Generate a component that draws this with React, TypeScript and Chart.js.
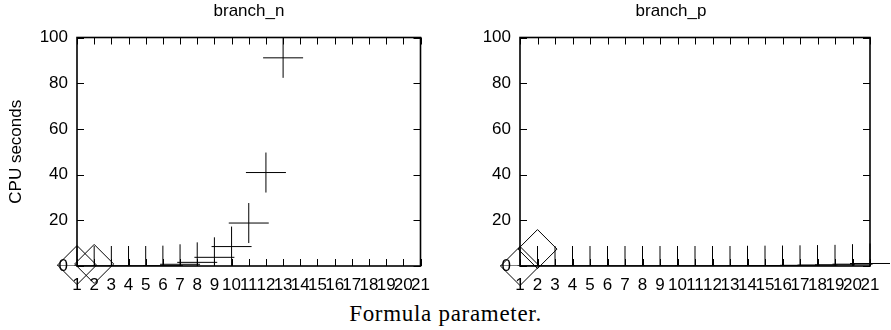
import React, { useEffect, useRef } from "react";
import { Chart, registerables } from "chart.js";

Chart.register(...registerables);

// ---- data ----
const xTickMin = 1;
const xTickMax = 21;
const yTickMax = 100;
const yTickStep = 20;

const branchNCrossX = [1, 2, 3, 4, 5, 6, 7, 8, 9, 10, 11, 12, 13];
const branchNCrossY = [0, 0, 0, 0, 0, 0.15, 0.75, 1.6, 3.8, 8.5, 18.8, 40.9, 91.1];
const branchNDiamondX = [1, 2];
const branchNDiamondY = [0.4, 0.9];

const branchPCrossX = [1, 2, 3, 4, 5, 6, 7, 8, 9, 10, 11, 12, 13, 14, 15, 16, 17, 18, 19, 20, 21];
const branchPCrossY = [0, 0, 0, 0, 0, 0, 0, 0, 0, 0, 0, 0, 0, 0.1, 0.15, 0.2, 0.3, 0.4, 0.5, 0.8, 1.1];
const branchPDiamondX = [1, 2];
const branchPDiamondY = [0, 7.4];

const FONT = "'Liberation Sans', Arial, sans-serif";
const FSIZE = 17;

const framePlugin = {
  id: "gnuframe",
  afterDraw(chart: any) {
    const { ctx, chartArea: a, scales } = chart;
    const xs = scales.x;
    const ys = scales.y;
    const tl = 7;
    ctx.save();
    ctx.strokeStyle = "#000";
    ctx.lineWidth = 1;
    ctx.beginPath();
    xs.ticks.forEach((t: any) => {
      const px = Math.round(xs.getPixelForValue(t.value)) + 0.5;
      ctx.moveTo(px, a.bottom);
      ctx.lineTo(px, a.bottom - tl);
      ctx.moveTo(px, a.top);
      ctx.lineTo(px, a.top + tl);
    });
    ys.ticks.forEach((t: any) => {
      const py = Math.round(ys.getPixelForValue(t.value)) + 0.5;
      ctx.moveTo(a.left, py);
      ctx.lineTo(a.left + tl, py);
      ctx.moveTo(a.right, py);
      ctx.lineTo(a.right - tl, py);
    });
    ctx.stroke();
    ctx.lineWidth = 1.6;
    ctx.strokeRect(a.left, a.top, a.right - a.left, a.bottom - a.top);
    ctx.restore();
  },
};

function pts(xs: number[], ys: number[]) {
  return xs.map((x, i) => ({ x, y: ys[i] }));
}

function makeConfig(
  crossX: number[],
  crossY: number[],
  diaX: number[],
  diaY: number[],
  yWidth: number,
  rightPad: number,
  yTitle: string | null
): any {
  return {
    type: "scatter",
    data: {
      datasets: [
        {
          data: pts(crossX, crossY),
          pointStyle: "cross",
          pointRadius: 20,
          pointHoverRadius: 20,
          borderColor: "#000",
          backgroundColor: "#000",
          borderWidth: 1,
          showLine: false,
          clip: { left: false, top: false, right: false, bottom: 0 },
        },
        {
          data: pts(diaX, diaY),
          pointStyle: "rectRot",
          pointRadius: 19.5,
          pointHoverRadius: 19.5,
          borderColor: "#000",
          backgroundColor: "rgba(0,0,0,0)",
          borderWidth: 1,
          showLine: false,
          clip: false,
        },
      ],
    },
    options: {
      animation: false,
      responsive: false,
      devicePixelRatio: 1,
      events: [],
      layout: { padding: { left: 0, right: rightPad, top: 37.5, bottom: 0 } },
      plugins: {
        legend: { display: false },
        tooltip: { enabled: false },
        title: { display: false },
      },
      scales: {
        x: {
          type: "linear",
          min: xTickMin,
          max: xTickMax,
          grid: { display: false, drawTicks: false },
          border: { display: false },
          ticks: {
            stepSize: 1,
            autoSkip: false,
            maxRotation: 0,
            minRotation: 0,
            padding: 8.8,
            color: "#000",
            font: { family: FONT, size: FSIZE },
          },
          afterFit: (s: any) => {
            s.height = 34;
          },
        },
        y: {
          type: "linear",
          min: 0,
          max: yTickMax,
          grid: { display: false, drawTicks: false },
          border: { display: false },
          ticks: {
            stepSize: yTickStep,
            padding: 9,
            color: "#000",
            font: { family: FONT, size: FSIZE },
          },
          title: yTitle
            ? {
                display: true,
                text: yTitle,
                color: "#000",
                font: { family: FONT, size: FSIZE },
                padding: { top: 5.8, bottom: 0 },
              }
            : { display: false },
          afterFit: (s: any) => {
            s.width = yWidth;
          },
        },
      },
    },
    plugins: [framePlugin],
  };
}

function Panel(props: { config: any; left: number; width: number }) {
  const ref = useRef<HTMLCanvasElement>(null);
  useEffect(() => {
    if (!ref.current) return;
    const chart = new Chart(ref.current, props.config);
    return () => chart.destroy();
  }, []);
  return (
    <canvas
      ref={ref}
      width={props.width}
      height={300}
      style={{ position: "absolute", left: props.left, top: 0, width: props.width, height: 300 }}
    />
  );
}

function PanelTitle(props: { text: string; center: number }) {
  return (
    <div
      style={{
        position: "absolute",
        left: props.center - 100,
        top: 1,
        width: 200,
        textAlign: "center",
        fontFamily: FONT,
        fontSize: FSIZE,
        lineHeight: "20px",
        color: "#000",
      }}
    >
      {props.text}
    </div>
  );
}

export default function App() {
  const leftCfg = makeConfig(branchNCrossX, branchNCrossY, branchNDiamondX, branchNDiamondY, 77, 24.5, "CPU seconds");
  const rightCfg = makeConfig(branchPCrossX, branchPCrossY, branchPDiamondX, branchPDiamondY, 75, 10.5, null);
  return (
    <div style={{ position: "absolute", left: 0, top: 0, width: 891, height: 330, background: "#fff", overflow: "hidden" }}>
      <Panel config={leftCfg} left={0} width={445} />
      <Panel config={rightCfg} left={445} width={446} />
      <PanelTitle text="branch_n" center={249} />
      <PanelTitle text="branch_p" center={671} />
      <div
        style={{
          position: "absolute",
          left: 0,
          top: 302,
          width: 891,
          textAlign: "center",
          fontFamily: "'Liberation Serif', serif",
          fontSize: 23,
          lineHeight: "23px",
          letterSpacing: "0.7px",
          color: "#000",
        }}
      >
        Formula parameter.
      </div>
    </div>
  );
}
